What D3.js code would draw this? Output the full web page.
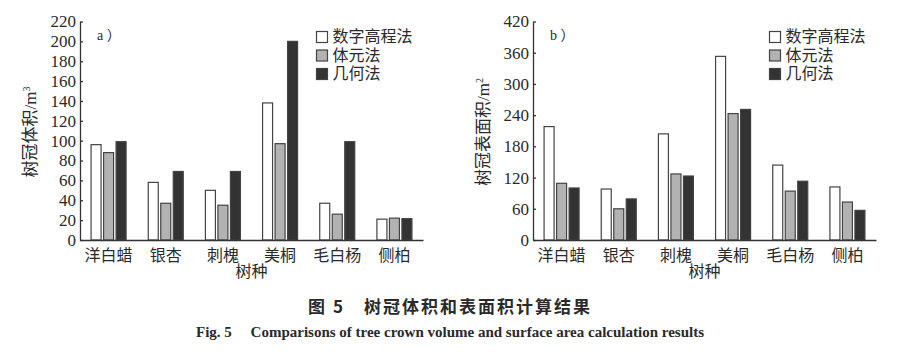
<!DOCTYPE html>
<html>
<head>
<meta charset="utf-8">
<script src="https://cdn.jsdelivr.net/npm/d3@7"></script>
<style>
  body { margin: 0; background: #fff; }
  svg text { fill: #2a2a2a; }
</style>
</head>
<body>
<div id="chart"></div>
<script>
// tree species and methods
const species = ['洋白蜡', '银杏', '刺槐', '美桐', '毛白杨', '侧柏']
const methods = ['数字高程法', '体元法', '几何法']

// a) crown volume, m3
const volDem = [96, 58, 50, 138, 37, 21]
const volVoxel = [88, 37, 35, 97, 26, 22]
const volGeom = [99, 69, 69, 200, 99, 21.5]
const volTicks = [0, 20, 40, 60, 80, 100, 120, 140, 160, 180, 200, 220]

// b) crown surface area, m2
const areaDem = [218, 98, 204, 353, 144, 102]
const areaVoxel = [109, 60, 127, 243, 94, 73]
const areaGeom = [100, 79, 123, 251, 113, 57]
const areaTicks = [0, 60, 120, 180, 240, 300, 360, 420]

const W = 908, H = 352
const serif = '"Liberation Serif", "Noto Sans CJK SC", serif'
const cjk = '"Liberation Serif", "Noto Sans CJK SC", sans-serif'
const fills = ['#ffffff', '#b2b2b2', '#333333']
const stroke = '#444'

const svg = d3.select('#chart').append('svg')
  .attr('width', W)
  .attr('height', H)

function drawPanel(left, tag, series, ticks, unit, unitSup, titleText) {
  const plotW = 343
  const y0 = 240
  const maxV = ticks[ticks.length - 1]
  const g = svg.append('g').attr('transform', `translate(${left},0)`)

  const x = d3.scaleBand().domain(species).range([0, plotW])
    .paddingInner(0.37).paddingOuter(0.185)
  const xs = d3.scaleBand().domain(methods).range([0, x.bandwidth()])
    .paddingInner(0.12)
  const y = d3.scaleLinear().domain([0, maxV]).range([y0, 21.5])

  const rows = species.map((s, i) => ({
    s: s,
    vals: methods.map((m, j) => ({ m: m, j: j, v: series[j][i] }))
  }))

  const grp = g.selectAll('.grp').data(rows).enter().append('g')
    .attr('transform', d => `translate(${x(d.s)},0)`)
  grp.selectAll('rect').data(d => d.vals).enter().append('rect')
    .attr('x', d => xs(d.m) + 0.5)
    .attr('width', xs.bandwidth() - 1)
    .attr('y', d => y(d.v))
    .attr('height', d => y0 - y(d.v))
    .attr('fill', d => fills[d.j])
    .attr('stroke', stroke)
    .attr('stroke-width', 1.2)

  const yAxis = g.append('g')
    .call(d3.axisLeft(y).tickValues(ticks).tickSize(-3).tickSizeOuter(0).tickPadding(4))
  yAxis.selectAll('text').style('font', `17px ${serif}`)
  yAxis.selectAll('line, path').attr('stroke', '#333').attr('stroke-width', 1.3)

  const xAxis = g.append('g').attr('transform', `translate(0,${y0})`)
    .call(d3.axisBottom(x).tickSize(0).tickPadding(10))
  xAxis.select('.domain').attr('stroke', '#333').attr('stroke-width', 1.3)
  xAxis.selectAll('text').style('font', `16px ${cjk}`)

  g.append('text')
    .attr('x', 17).attr('y', 40)
    .style('font', `14px ${serif}`)
    .text(tag + ' ）')

  // legend
  const lg = g.selectAll('.lg').data(methods).enter().append('g')
    .attr('transform', (d, i) => `translate(${236.5},${31.5 + i * 18.5})`)
  lg.append('rect')
    .attr('width', 11).attr('height', 11)
    .attr('fill', (d, i) => fills[i])
    .attr('stroke', stroke).attr('stroke-width', 1.2)
  lg.append('text')
    .attr('x', 16).attr('y', 10.5)
    .style('font', `16px ${cjk}`)
    .text(d => d)

  // axis titles
  const yt = g.append('text')
    .attr('transform', `translate(-50,${132}) rotate(-90)`)
    .attr('text-anchor', 'middle')
    .attr('dy', '0.35em')
    .style('font', `17px ${cjk}`)
  yt.append('tspan').text(titleText + unit)
  yt.append('tspan').attr('dy', -6).style('font-size', '10px').text(unitSup)

  g.append('text')
    .attr('x', plotW / 2).attr('y', 277)
    .attr('text-anchor', 'middle')
    .style('font', `16px ${cjk}`)
    .text('树种')
}

drawPanel(80, 'a', [volDem, volVoxel, volGeom], volTicks, '/m', '3', '树冠体积')
drawPanel(533, 'b', [areaDem, areaVoxel, areaGeom], areaTicks, '/m', '2', '树冠表面积')

svg.append('text')
  .attr('x', 450).attr('y', 313)
  .attr('text-anchor', 'middle')
  .style('font', 'bold 17px "Noto Sans CJK SC", sans-serif')
  .style('letter-spacing', '2px')
  .text('图 5\u3000树冠体积和表面积计算结果')

svg.append('text')
  .attr('x', 450).attr('y', 337)
  .attr('text-anchor', 'middle')
  .style('font', 'bold 15px "Liberation Serif", serif')
  .text('Fig. 5\u2003 Comparisons of tree crown volume and surface area calculation results')
</script>
</body>
</html>
